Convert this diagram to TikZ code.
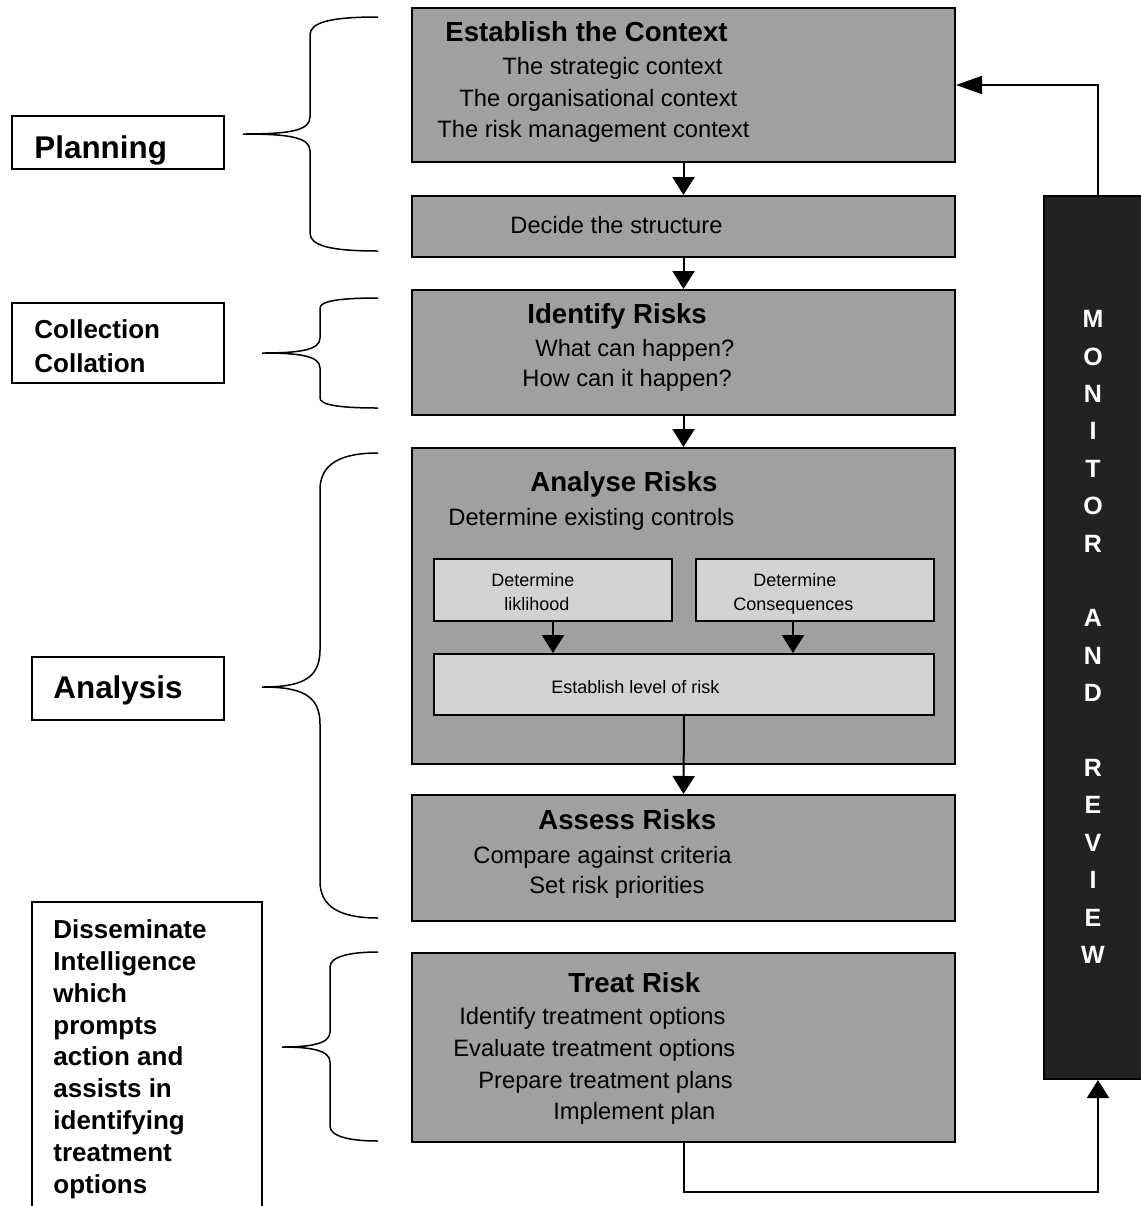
\documentclass[tikz,border=0pt]{standalone}
\usepackage{fontspec}
\setmainfont{Liberation Sans}
\usepackage{tikz}
\usetikzlibrary{arrows.meta}

\definecolor{stagegray}{HTML}{A0A0A0}
\definecolor{subgray}{HTML}{D2D2D2}
\definecolor{monblack}{HTML}{222222}

% curly bracket: x of spine, top y, x of tip, y of tip, bottom y, end bend, tip bend
\newcommand{\sidebrace}[7]{%
  \draw[bracket] (378,#2) .. controls (#1+20,#2) and (#1,#2+0.3*#6) .. (#1,#2+#6)
    -- (#1,#4-#7) .. controls (#1,#4-0.2*#7) and (#1-20,#4) .. (#3,#4)
    .. controls (#1-20,#4) and (#1,#4+0.2*#7) .. (#1,#4+#7)
    -- (#1,#5-#6) .. controls (#1,#5-0.3*#6) and (#1+20,#5) .. (378,#5);}

\tikzset{
  stage/.style={draw,line width=1pt,fill=stagegray,inner sep=0pt,minimum width=271.5pt},
  substage/.style={draw,line width=1pt,fill=subgray,inner sep=0pt},
  tag/.style={draw,line width=1pt,fill=white,inner sep=0pt},
  title/.style={anchor=base west,inner sep=0pt,font=\fontsize{13.8}{16}\selectfont\bfseries},
  body/.style={anchor=base west,inner sep=0pt,font=\fontsize{11.85}{14}\selectfont},
  small/.style={anchor=base west,inner sep=0pt,font=\fontsize{9}{11}\selectfont},
  tagtext/.style={anchor=north west,inner sep=0pt,align=left},
  arr/.style={-{Triangle[length=9pt,width=11pt]},line width=1pt},
  bracket/.style={line width=0.75pt}
}

\begin{document}
\begin{tikzpicture}[x=0.5pt,y=-0.5pt]
\useasboundingbox (0,0) rectangle (1141,1206);

% process boxes
\node[stage,minimum height=77pt] (ctx) at (683.5,85) {};
\node[stage,minimum height=30.5pt] (struct) at (683.5,226.5) {};
\node[stage,minimum height=62.5pt] (ident) at (683.5,352.5) {};
\node[stage,minimum height=158pt] (analyse) at (683.5,606) {};
\node[substage,minimum width=119pt,minimum height=31pt] (lik) at (553,590) {};
\node[substage,minimum width=119pt,minimum height=31pt] (cons) at (815,590) {};
\node[substage,minimum width=250pt,minimum height=30.5pt] (level) at (684,684.5) {};
\node[stage,minimum height=63pt] (assess) at (683.5,858) {};
\node[stage,minimum height=94.5pt] (treat) at (683.5,1047.5) {};
\node[draw,line width=1pt,fill=monblack,minimum width=54pt,minimum height=441.5pt] (mon) at (1098,637.5) {};

% texts of the boxes
\node[title] (ctxT) at (445,41) {Establish the Context};
\node[body] (ctx1) at (502,74) {The strategic context};
\node[body] (ctx2) at (459,106) {The organisational context};
\node[body] (ctx3) at (437,137) {The risk management context};
\node[body] (structT) at (510,233) {Decide the structure};
\node[title] (identT) at (527,323) {Identify Risks};
\node[body] (ident1) at (535,356) {What can happen?};
\node[body] (ident2) at (522,386) {How can it happen?};
\node[title] (analyseT) at (530,491) {Analyse Risks};
\node[body] (analyse1) at (448,525) {Determine existing controls};
\node[small] (lik1) at (491,586) {Determine};
\node[small] (lik2) at (504,610) {liklihood};
\node[small] (cons1) at (753,586) {Determine};
\node[small] (cons2) at (733,610) {Consequences};
\node[small] (levelT) at (551,693) {Establish level of risk};
\node[title] (assessT) at (538,829) {Assess Risks};
\node[body] (assess1) at (473,863) {Compare against criteria};
\node[body] (assess2) at (529,893) {Set risk priorities};
\node[title] (treatT) at (568,992) {Treat Risk};
\node[body] (treat1) at (459,1024) {Identify treatment options};
\node[body] (treat2) at (453,1056) {Evaluate treatment options};
\node[body] (treat3) at (478,1088) {Prepare treatment plans};
\node[body] (treat4) at (553,1119) {Implement plan};
\node[anchor=north,inner sep=0pt,align=center,text=white,
      font=\fontsize{12.5}{18.7}\selectfont\bfseries] (monT) at (1093,310)
  {M\\O\\N\\I\\T\\O\\R\\[18.7pt]A\\N\\D\\[18.7pt]R\\E\\V\\I\\E\\W};

% phase labels
\node[tag,minimum width=106pt,minimum height=26.5pt] (plan) at (118,142.5) {};
\node[tag,minimum width=106pt,minimum height=40pt] (coll) at (118,343) {};
\node[tag,minimum width=96pt,minimum height=31.5pt] (anl) at (128,688.5) {};
\node[tag,minimum width=115pt,minimum height=164pt] (dis) at (147,1066) {};
\node[anchor=base west,inner sep=0pt,font=\fontsize{15.7}{18}\selectfont\bfseries] (planT) at (34,158) {Planning};
\node[tagtext,font=\fontsize{13}{17}\selectfont\bfseries] (collT) at (34,319.4) {Collection\\Collation};
\node[anchor=base west,inner sep=0pt,font=\fontsize{15.7}{18}\selectfont\bfseries] (anlT) at (53,698) {Analysis};
\node[tagtext,font=\fontsize{13}{15.9}\selectfont\bfseries] (disT) at (53,919.4)
  {Disseminate\\Intelligence\\which\\prompts\\action and\\assists in\\identifying\\treatment\\options};

% brackets
\sidebrace{310}{17}{243}{134}{251}{18}{17}
\sidebrace{320}{298}{262}{353}{408}{10}{15}
\sidebrace{320}{453}{262}{687}{918}{37}{37}
\sidebrace{330}{952}{282}{1047}{1141}{15}{15}

% flow
\draw[arr] (ctx) -- (struct);
\draw[arr] (struct) -- (ident);
\draw[arr] (ident) -- (analyse);
\draw[arr] (lik.south) -- (lik.south |- level.north);
\draw[arr] ([xshift=-11pt]cons.south) -- ([xshift=-11pt]cons.south |- level.north);
\draw[arr] (level.south) -- (assess.north);
\draw[arr] (treat.south) -- ++(0,49) -| (mon.south);
\draw[arr,-{Triangle[length=13pt,width=9pt]}] (mon.north) |- (ctx.east);
\end{tikzpicture}
\end{document}
